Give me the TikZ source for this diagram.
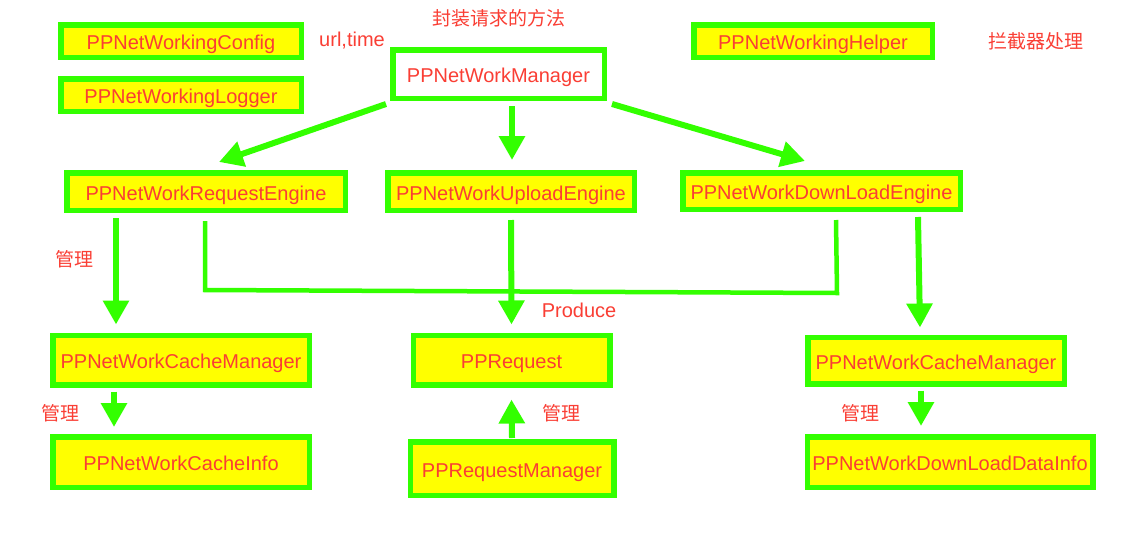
\documentclass[tikz,border=0pt]{standalone}
\usepackage{fontspec}
\setmainfont{Liberation Sans}
\newfontfamily\cjk{Noto Sans CJK SC}
\usetikzlibrary{arrows.meta,calc}
\definecolor{pgreen}{RGB}{51,255,0}
\definecolor{pyellow}{RGB}{255,255,0}
\definecolor{pred}{RGB}{250,62,52}
\begin{document}
\begin{tikzpicture}[x=1pt,y=-1pt,
  box/.style={draw=pgreen, fill=pyellow, line width=5.5pt, text=pred, inner sep=0pt,
    text height=17pt, text depth=0pt,
    font=\fontsize{20}{24}\selectfont},
  wbox/.style={box, fill=white},
  lbl/.style={text=pred, inner sep=0pt, font=\fontsize{20}{24}\selectfont},
  clbl/.style={text=pred, inner sep=0pt, font=\cjk\fontsize{19}{23}\selectfont},
  arr/.style={draw=pgreen, line width=6pt, -{Triangle[length=24pt,width=25pt]}},
  link/.style={draw=pgreen, line width=4.5pt}]
\useasboundingbox (0,0) rectangle (1124,536);
\fill[white] (0,0) rectangle (1124,536);

\node[box, minimum width=240.5pt, minimum height=32.5pt] (cfg) at (181,41) {PPNetWorkingConfig};
\node[box, minimum width=240.5pt, minimum height=32.5pt] (log) at (181,95) {PPNetWorkingLogger};
\node[wbox, minimum width=211.5pt, minimum height=48.5pt] (mgr) at (498.5,74) {PPNetWorkManager};
\node[box, minimum width=238.5pt, minimum height=32.5pt] (hlp) at (813,41) {PPNetWorkingHelper};

\node[box, minimum width=278.5pt, minimum height=37.5pt] (req) at (206,191.5) {PPNetWorkRequestEngine};
\node[box, minimum width=246.5pt, minimum height=37.5pt] (upl) at (511,191.5) {PPNetWorkUploadEngine};
\node[box, minimum width=277.5pt, minimum height=36.5pt] (dl) at (821.5,191) {PPNetWorkDownLoadEngine};

\node[box, minimum width=256.5pt, minimum height=49.5pt] (cacheL) at (181,360) {PPNetWorkCacheManager};
\node[box, minimum width=196.5pt, minimum height=49.5pt] (preq) at (511.5,360) {PPRequest};
\node[box, minimum width=256.5pt, minimum height=46.5pt] (cacheR) at (936,360.5) {PPNetWorkCacheManager};

\node[box, minimum width=256.5pt, minimum height=50.5pt] (cinfo) at (181,462) {PPNetWorkCacheInfo};
\node[box, minimum width=203.5pt, minimum height=53.5pt] (pmgr) at (512,468.5) {PPRequestManager};
\node[box, minimum width=285.5pt, minimum height=50.5pt] (dinfo) at (950,462) {PPNetWorkDownLoadDataInfo};

\node[lbl] (urlt) at (352,41) {url,time};
\node[clbl] (t1) at (499,18) {封装请求的方法};
\node[clbl] (t2) at (1036,41) {拦截器处理};
\node[clbl] (m1) at (74,259) {管理};
\node[clbl] (m2) at (60,413) {管理};
\node[clbl] (m3) at (561,413) {管理};
\node[clbl] (m4) at (860,413) {管理};
\node[lbl] (prod) at (579,310) {Produce};

\draw[arr] ([xshift=-4pt,yshift=-3pt]mgr.south west) -- ([xshift=13pt,yshift=8pt]req.north);
\draw[arr] ([xshift=13.5pt,yshift=-5pt]mgr.south) -- ([xshift=1pt,yshift=10pt]upl.north);
\draw[arr] ([xshift=5pt,yshift=-3pt]mgr.south east) -- ([xshift=-16.5pt,yshift=9pt]dl.north);

\draw[arr] ([xshift=-90pt,yshift=-5pt]req.south) -- ([xshift=-65pt,yshift=8pt]cacheL.north);
\draw[arr] ([xshift=-67pt,yshift=-4pt]cacheL.south) -- ([xshift=-67pt,yshift=7pt]cinfo.north);
\draw[arr] ([yshift=-7pt]upl.south) -- ([yshift=8pt]preq.north);
\draw[arr] ([xshift=96.5pt,yshift=-5pt]dl.south) -- ([xshift=-16pt,yshift=7pt]cacheR.north);
\draw[arr] ([xshift=-15pt,yshift=-4pt]cacheR.south) -- ([xshift=-29pt,yshift=8pt]dinfo.north);
\draw[arr] ([yshift=1pt]pmgr.north) -- ([yshift=-12pt]preq.south);

\coordinate (bA) at ([xshift=-1pt,yshift=-8pt]req.south);
\coordinate (bB) at ([xshift=14.5pt,yshift=-8pt]dl.south);
\draw[link] (bA) -- ++(0,69) -- ($(bB)+(1,73)$) -- (bB);
\end{tikzpicture}
\end{document}
